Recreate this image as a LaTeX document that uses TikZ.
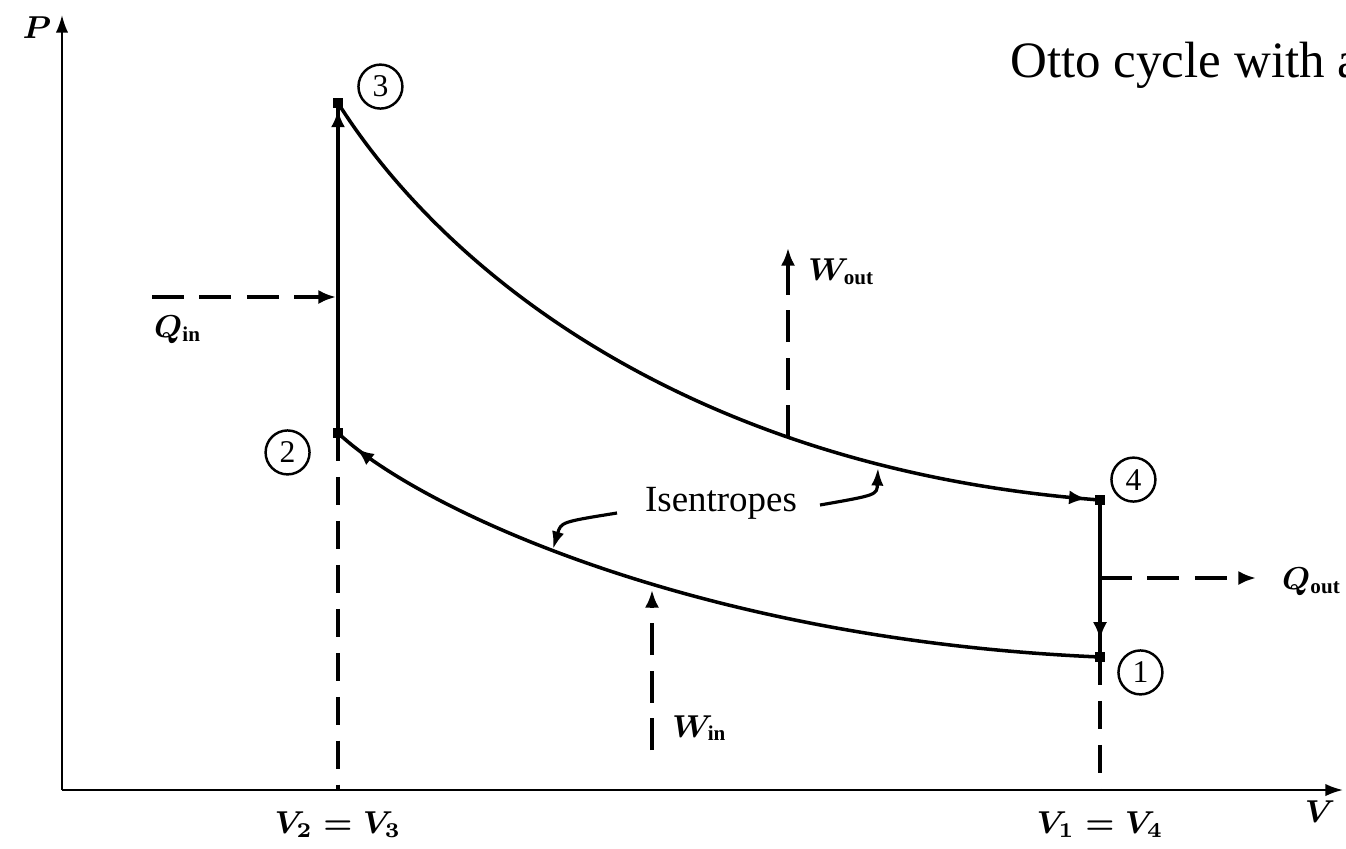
\documentclass[tikz,border=0pt]{standalone}
\usepackage{fontspec}
\setmainfont{Liberation Serif}
\usepackage{amsmath}
\usetikzlibrary{arrows.meta,positioning,decorations.markings}
\tikzset{
  axis/.style={line width=0.6pt,-{Latex[length=5pt,width=3.5pt]}},
  proc/.style={line width=1pt},
  flow/.style={line width=1pt,dash pattern=on 9pt off 4.5pt,-{Latex[length=5pt,width=4pt]}},
  guide/.style={line width=0.9pt,dash pattern=on 8pt off 4.5pt},
  leader/.style={line width=0.9pt,-{Latex[length=5pt,width=3.5pt]}},
  num/.style={circle,draw,line width=0.7pt,minimum size=12.5pt,inner sep=0pt,font=\small},
  pt/.style={rectangle,fill,inner sep=0pt,minimum size=2.6pt},
  lbl/.style={font=\small\boldmath,inner sep=1pt},
  tipat/.style={postaction={decorate},
                decoration={markings,mark=at position #1 with {\arrow{Latex[length=5pt,width=4pt]}}}},
}

\begin{document}
\begin{tikzpicture}[x=0.01cm,y=-0.01cm]
  \useasboundingbox (0,0) rectangle (1346,848);
  % axes
  \coordinate (o) at (62,790);
  \coordinate (ptop) at (62,15);
  \coordinate (vend) at (1343,790);
  \draw[axis] (o) -- (ptop);
  \draw[axis] (o) -- (vend);
  \node[lbl] (plab) at (37,28) {$P$};
  \node[lbl] (vlab) at (1320,812) {$V$};
  \node[anchor=base west,font=\fontsize{14.5}{17}\selectfont] (title) at (998,77) {Otto cycle with a};

  % state points
  \coordinate (p1) at (1100,657);
  \coordinate (p2) at (338,433);
  \coordinate (p3) at (338,103);
  \coordinate (p4) at (1100,500);

  % the four processes
  \draw[proc,tipat=0.98] (p2) -- (p3);
  \draw[proc,tipat=0.985] (p3) .. controls (450,280) and (700,470) .. (p4);
  \draw[proc,tipat=0.89] (p4) -- (p1);
  \draw[proc,tipat=0.97] (p1) .. controls (700,640) and (420,510) .. (p2);
  \foreach \p in {p1,p2,p3,p4}
    \node[pt] at (\p) {};

  \node[num,above right=0.0cm and 0.26cm of p3] (n3) {3};
  \node[num,below left=0.03cm and 0.34cm of p2] (n2) {2};
  \node[num,above right=0.04cm and 0.17cm of p4] (n4) {4};
  \node[num,below right=-0.01cm and 0.24cm of p1] (n1) {1};

  % volume guides
  \coordinate (f2) at (p2 |- o);
  \coordinate (f1) at (p1 |- o);
  \draw[guide] (p2) -- (f2);
  \draw[guide] (p1) -- (f1);
  \node[lbl,below=5pt of f2] (v23) {$V_2 = V_3$};
  \node[lbl,below=5pt of f1] (v14) {$V_1 = V_4$};

  % heat and work
  \coordinate (qi1) at (152,297);
  \coordinate (qi2) at (336,297);
  \draw[flow] (qi1) -- (qi2);
  \node[lbl,anchor=north west] (qin) at (150,312) {$Q_{\mathrm{in}}$};
  \coordinate (qo1) at (1100,578);
  \coordinate (qo2) at (1256,578);
  \draw[flow] (qo1) -- (qo2);
  \node[lbl,anchor=west] (qout) at (1278,582) {$Q_{\mathrm{out}}$};
  \coordinate (wo1) at (788,437);
  \coordinate (wo2) at (788,248);
  \draw[flow] (wo1) -- (wo2);
  \node[lbl,anchor=west] (wout) at (804,272) {$W_{\mathrm{out}}$};
  \coordinate (wi1) at (652,750);
  \coordinate (wi2) at (652,590);
  \draw[flow] (wi1) -- (wi2);
  \node[lbl,anchor=west] (win) at (668,728) {$W_{\mathrm{in}}$};

  % isentropes
  \node[font=\fontsize{10.5}{12}\selectfont] (isen) at (721,503) {Isentropes};
  \draw[leader] (820,505) .. controls (877,495) .. (878,468);
  \draw[leader] (617,513) .. controls (561,522) .. (553,549);
\end{tikzpicture}
\end{document}
